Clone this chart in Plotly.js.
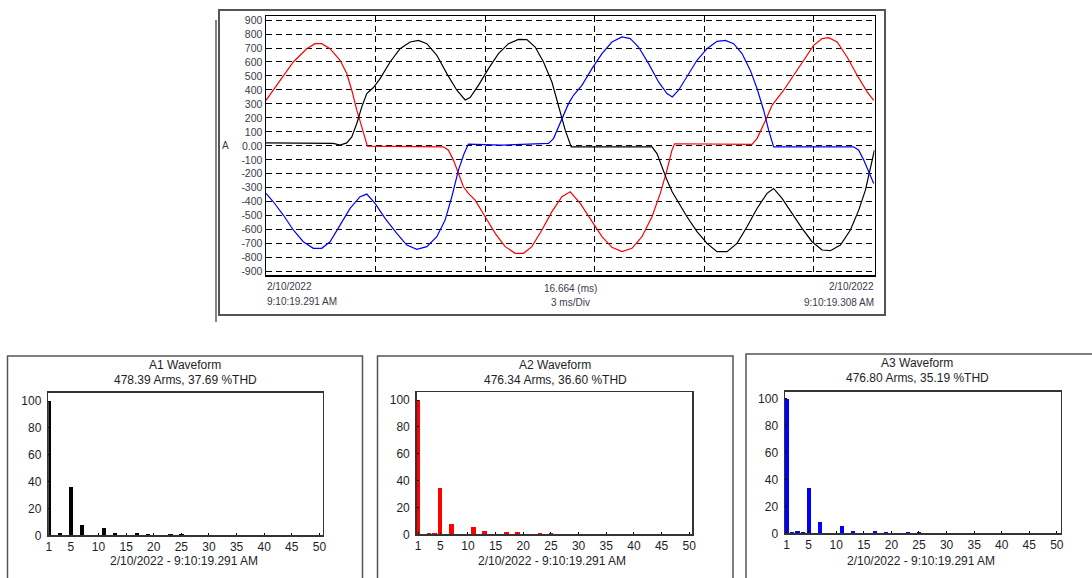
<!DOCTYPE html>
<html>
<head>
<meta charset="utf-8">
<script src="https://cdn.plot.ly/plotly-3.0.1.min.js"></script>
<style>
html,body{margin:0;padding:0;background:#fff;}
#chart{width:1092px;height:578px;}
</style>
</head>
<body>
<div id="chart"></div>
<script>
// ---- Waveform data (time in ms, current in A) ----
const tRed = [0,0.384,0.748,1.115,1.343,1.526,1.754,2.028,2.212,2.349,2.486,2.623,2.776,4.859,4.996,5.133,5.270,5.407,5.544,5.728,6.002,6.276,6.550,6.824,7.051,7.281,7.556,7.830,8.104,8.331,8.605,8.926,9.200,9.474,9.748,10.022,10.296,10.570,10.797,10.981,11.118,11.189,13.310,13.447,13.584,13.721,13.858,13.949,14.177,14.451,14.724,14.998,15.228,15.410,15.640,15.914,16.188,16.462,16.643];
const aRed = [326,469,600,695,731,731,695,612,517,398,255,136,-2,-7,-31,-102,-198,-293,-340,-388,-507,-626,-721,-769,-769,-721,-602,-471,-364,-329,-412,-543,-650,-726,-757,-733,-650,-507,-340,-174,-31,15,10,52,136,207,290,321,398,505,612,719,767,774,743,636,505,386,326];

const tBlack = [0,1.844,2.028,2.212,2.349,2.486,2.623,2.760,2.941,3.124,3.398,3.672,3.946,4.174,4.404,4.678,4.952,5.226,5.454,5.590,5.818,6.092,6.366,6.640,6.914,7.144,7.372,7.599,7.830,8.011,8.194,8.358,10.570,10.707,10.844,10.981,11.126,11.255,11.529,11.803,12.077,12.351,12.625,12.899,13.173,13.447,13.721,13.902,14.132,14.406,14.680,14.954,15.228,15.456,15.730,16.004,16.232,16.415,16.552,16.662];
const aBlack = [21,17,5,21,64,160,279,374,417,481,600,695,743,755,731,648,517,398,328,345,433,552,660,731,762,760,707,600,457,290,112,-7,-7,-55,-150,-245,-330,-388,-507,-614,-698,-757,-757,-698,-579,-448,-340,-305,-376,-483,-590,-686,-745,-750,-710,-602,-460,-317,-150,-31];

const tBlue = [0,0.200,0.474,0.748,1.022,1.296,1.526,1.754,2.028,2.302,2.576,2.760,2.987,3.261,3.582,3.856,4.130,4.404,4.678,4.905,5.089,5.270,5.426,5.544,6.459,7.736,7.873,8.011,8.147,8.284,8.421,8.651,8.926,9.200,9.474,9.748,9.975,10.202,10.477,10.751,10.981,11.126,11.299,11.529,11.803,12.077,12.351,12.578,12.806,13.036,13.264,13.447,13.628,13.765,13.902,16.095,16.232,16.369,16.506,16.643];
const aBlue = [-340,-400,-495,-602,-686,-733,-733,-686,-567,-448,-364,-345,-412,-519,-626,-710,-740,-721,-650,-531,-364,-174,-55,12,5,17,52,136,219,302,362,433,552,660,743,779,767,707,588,457,374,350,398,493,612,695,748,755,731,660,540,410,255,112,-7,-7,-31,-102,-186,-269];

const yTickVals = [900,800,700,600,500,400,300,200,100,0,-100,-200,-300,-400,-500,-600,-700,-800,-900];
const yTickText = ["900","800","700","600","500","400","300","200","100","0.00","-100","-200","-300","-400","-500","-600","-700","-800","-900"];
const xDivs = [3,6,9,12,15];
const startDate = "2/10/2022", startTime = "9:10:19.291 AM";
const endDate = "2/10/2022", endTime = "9:10:19.308 AM";
const spanLabel = "16.664 (ms)", divLabel = "3 ms/Div";

// ---- Harmonic spectra (% of fundamental) ----
const h1Order = [1,3,5,7,11,13,17,19,23,25];
const h1Val   = [100,2.0,36.2,7.4,5.2,1.7,1.7,1.0,1.0,1.0];
const h2Order = [1,3,4,5,7,11,13,17,19,23,25];
const h2Val   = [100,1.0,1.0,34.7,7.4,5.2,2.5,1.7,1.7,1.0,1.0];
const h3Order = [1,2,3,4,5,7,11,13,17,19,23,25];
const h3Val   = [100,1.0,1.7,1.0,33.4,8.2,5.2,1.7,1.7,1.0,1.0,1.0];
const hTitles = ["A1 Waveform","A2 Waveform","A3 Waveform"];
const hSub = ["478.39 Arms, 37.69 %THD","476.34 Arms, 36.60 %THD","476.80 Arms, 35.19 %THD"];
const hDate = "2/10/2022 - 9:10:19.291 AM";
const hXTicks = [1,5,10,15,20,25,30,35,40,45,50];

// ---- layout helpers ----
const W = 1092, H = 578;
const px = x => x / W;
const py = y => 1 - y / H;
const FONT = "Liberation Sans, Arial, sans-serif";
const topTxt = "#3a3a4e";
const hTxt = "#1e1e28";

const traces = [
  {x:tRed, y:aRed, type:'scatter', mode:'lines', line:{color:'#ff0000', width:1.2}, xaxis:'x', yaxis:'y', hoverinfo:'skip'},
  {x:tBlack, y:aBlack, type:'scatter', mode:'lines', line:{color:'#000000', width:1.2}, xaxis:'x', yaxis:'y', hoverinfo:'skip'},
  {x:tBlue, y:aBlue, type:'scatter', mode:'lines', line:{color:'#0000ff', width:1.2}, xaxis:'x', yaxis:'y', hoverinfo:'skip'},
  {x:h1Order, y:h1Val, type:'bar', width:0.8, marker:{color:'#000000'}, xaxis:'x2', yaxis:'y2', hoverinfo:'skip'},
  {x:h2Order, y:h2Val, type:'bar', width:0.8, marker:{color:'#ff0000'}, xaxis:'x3', yaxis:'y3', hoverinfo:'skip'},
  {x:h3Order, y:h3Val, type:'bar', width:0.8, marker:{color:'#0000ff'}, xaxis:'x4', yaxis:'y4', hoverinfo:'skip'}
];

function histX(dom, rng, anchor){
  return {domain:dom, range:rng, anchor:anchor, tickvals:hXTicks, ticks:'inside', ticklen:2, tickcolor:'#000',
    showgrid:false, zeroline:false, showline:true, mirror:true, linecolor:'#333', linewidth:1.5,
    tickfont:{family:FONT, size:12, color:hTxt}, fixedrange:true};
}
function histY(dom, rng, anchor){
  return {domain:dom, range:rng, anchor:anchor, tickvals:[0,20,40,60,80,100], ticks:'inside', ticklen:2, tickcolor:'#000',
    showgrid:false, zeroline:false, showline:true, mirror:true, linecolor:'#333', linewidth:1.5,
    tickfont:{family:FONT, size:12, color:hTxt}, ticklabelstandoff:3, fixedrange:true};
}

const layout = {
  width: W, height: H,
  margin:{l:0, r:0, t:0, b:0},
  paper_bgcolor:'#ffffff', plot_bgcolor:'#ffffff',
  showlegend:false,
  bargap:0,
  xaxis:{domain:[px(266), px(874.5)], range:[0,16.664], anchor:'y',
    tickvals:xDivs, showticklabels:false, ticks:'',
    showgrid:true, gridcolor:'#000', gridwidth:1, griddash:'6px,4px',
    zeroline:false, showline:true, mirror:true, linecolor:'#000', linewidth:1.5, fixedrange:true},
  yaxis:{domain:[py(275), py(16)], range:[-924,929], anchor:'x',
    tickvals:yTickVals, ticktext:yTickText, ticks:'',
    tickfont:{family:FONT, size:10.5, color:topTxt},
    showgrid:true, gridcolor:'#000', gridwidth:1, griddash:'6px,4px',
    zeroline:false, showline:true, mirror:true, linecolor:'#000', linewidth:1.5, fixedrange:true},
  xaxis2: histX([px(48.3), px(322.7)], [0.9,50.6], 'y2'),
  yaxis2: histY([py(535.3), py(392.7)], [0,106.2], 'x2'),
  xaxis3: histX([px(416.7), px(692)], [0.75,50.5], 'y3'),
  yaxis3: histY([py(534.3), py(392)], [0,106], 'x3'),
  xaxis4: histX([px(785), px(1060.7)], [0.7,50.7], 'y4'),
  yaxis4: histY([py(533.3), py(391.7)], [0,105.2], 'x4'),
  shapes:[
    // main frame
    {type:'rect', xref:'paper', yref:'paper', x0:px(219), x1:px(885), y0:py(315), y1:py(10), line:{color:'#555', width:2}},
    {type:'line', xref:'paper', yref:'paper', x0:px(216), x1:px(216), y0:py(20), y1:py(322), line:{color:'#333', width:1.2}},
    // histogram frames
    {type:'rect', xref:'paper', yref:'paper', x0:px(7.5), x1:px(362.5), y0:py(580), y1:py(356), line:{color:'#555', width:1.5}},
    {type:'rect', xref:'paper', yref:'paper', x0:px(377.5), x1:px(733), y0:py(580), y1:py(356), line:{color:'#555', width:1.5}},
    {type:'rect', xref:'paper', yref:'paper', x0:px(746), x1:px(1096), y0:py(580), y1:py(354), line:{color:'#555', width:1.5}}
  ],
  annotations:[
    {xref:'paper', yref:'paper', x:px(226), y:py(145.5), text:'A', showarrow:false, font:{family:FONT, size:10, color:topTxt}, xanchor:'center', yanchor:'middle'},
    {xref:'paper', yref:'paper', x:px(265), y:py(287), text:startDate, showarrow:false, font:{family:FONT, size:10, color:topTxt}, xanchor:'left', yanchor:'middle'},
    {xref:'paper', yref:'paper', x:px(265), y:py(301.5), text:startTime, showarrow:false, font:{family:FONT, size:10, color:topTxt}, xanchor:'left', yanchor:'middle'},
    {xref:'paper', yref:'paper', x:px(570), y:py(288), text:spanLabel, showarrow:false, font:{family:FONT, size:10, color:topTxt}, xanchor:'center', yanchor:'middle'},
    {xref:'paper', yref:'paper', x:px(570), y:py(302), text:divLabel, showarrow:false, font:{family:FONT, size:10, color:topTxt}, xanchor:'center', yanchor:'middle'},
    {xref:'paper', yref:'paper', x:px(876), y:py(287), text:endDate, showarrow:false, font:{family:FONT, size:10, color:topTxt}, xanchor:'right', yanchor:'middle'},
    {xref:'paper', yref:'paper', x:px(876), y:py(302), text:endTime, showarrow:false, font:{family:FONT, size:10, color:topTxt}, xanchor:'right', yanchor:'middle'}
  ]
};

const hCenters = [185, 555, 917];
const hTitleY = [365, 365, 363];
const hPlotCenters = [185.5, 554.3, 922.8];
for (let i = 0; i < 3; i++) {
  layout.annotations.push({xref:'paper', yref:'paper', x:px(hCenters[i]), y:py(hTitleY[i]), text:hTitles[i], showarrow:false, font:{family:FONT, size:12, color:hTxt}, xanchor:'center', yanchor:'middle'});
  layout.annotations.push({xref:'paper', yref:'paper', x:px(hCenters[i]), y:py(hTitleY[i]+15), text:hSub[i], showarrow:false, font:{family:FONT, size:12, color:hTxt}, xanchor:'center', yanchor:'middle'});
  layout.annotations.push({xref:'paper', yref:'paper', x:px(hPlotCenters[i]-2), y:py(560.5), text:hDate, showarrow:false, font:{family:FONT, size:12, color:hTxt}, xanchor:'center', yanchor:'middle'});
}

Plotly.newPlot('chart', traces, layout, {staticPlot:true, displayModeBar:false});
</script>
</body>
</html>
